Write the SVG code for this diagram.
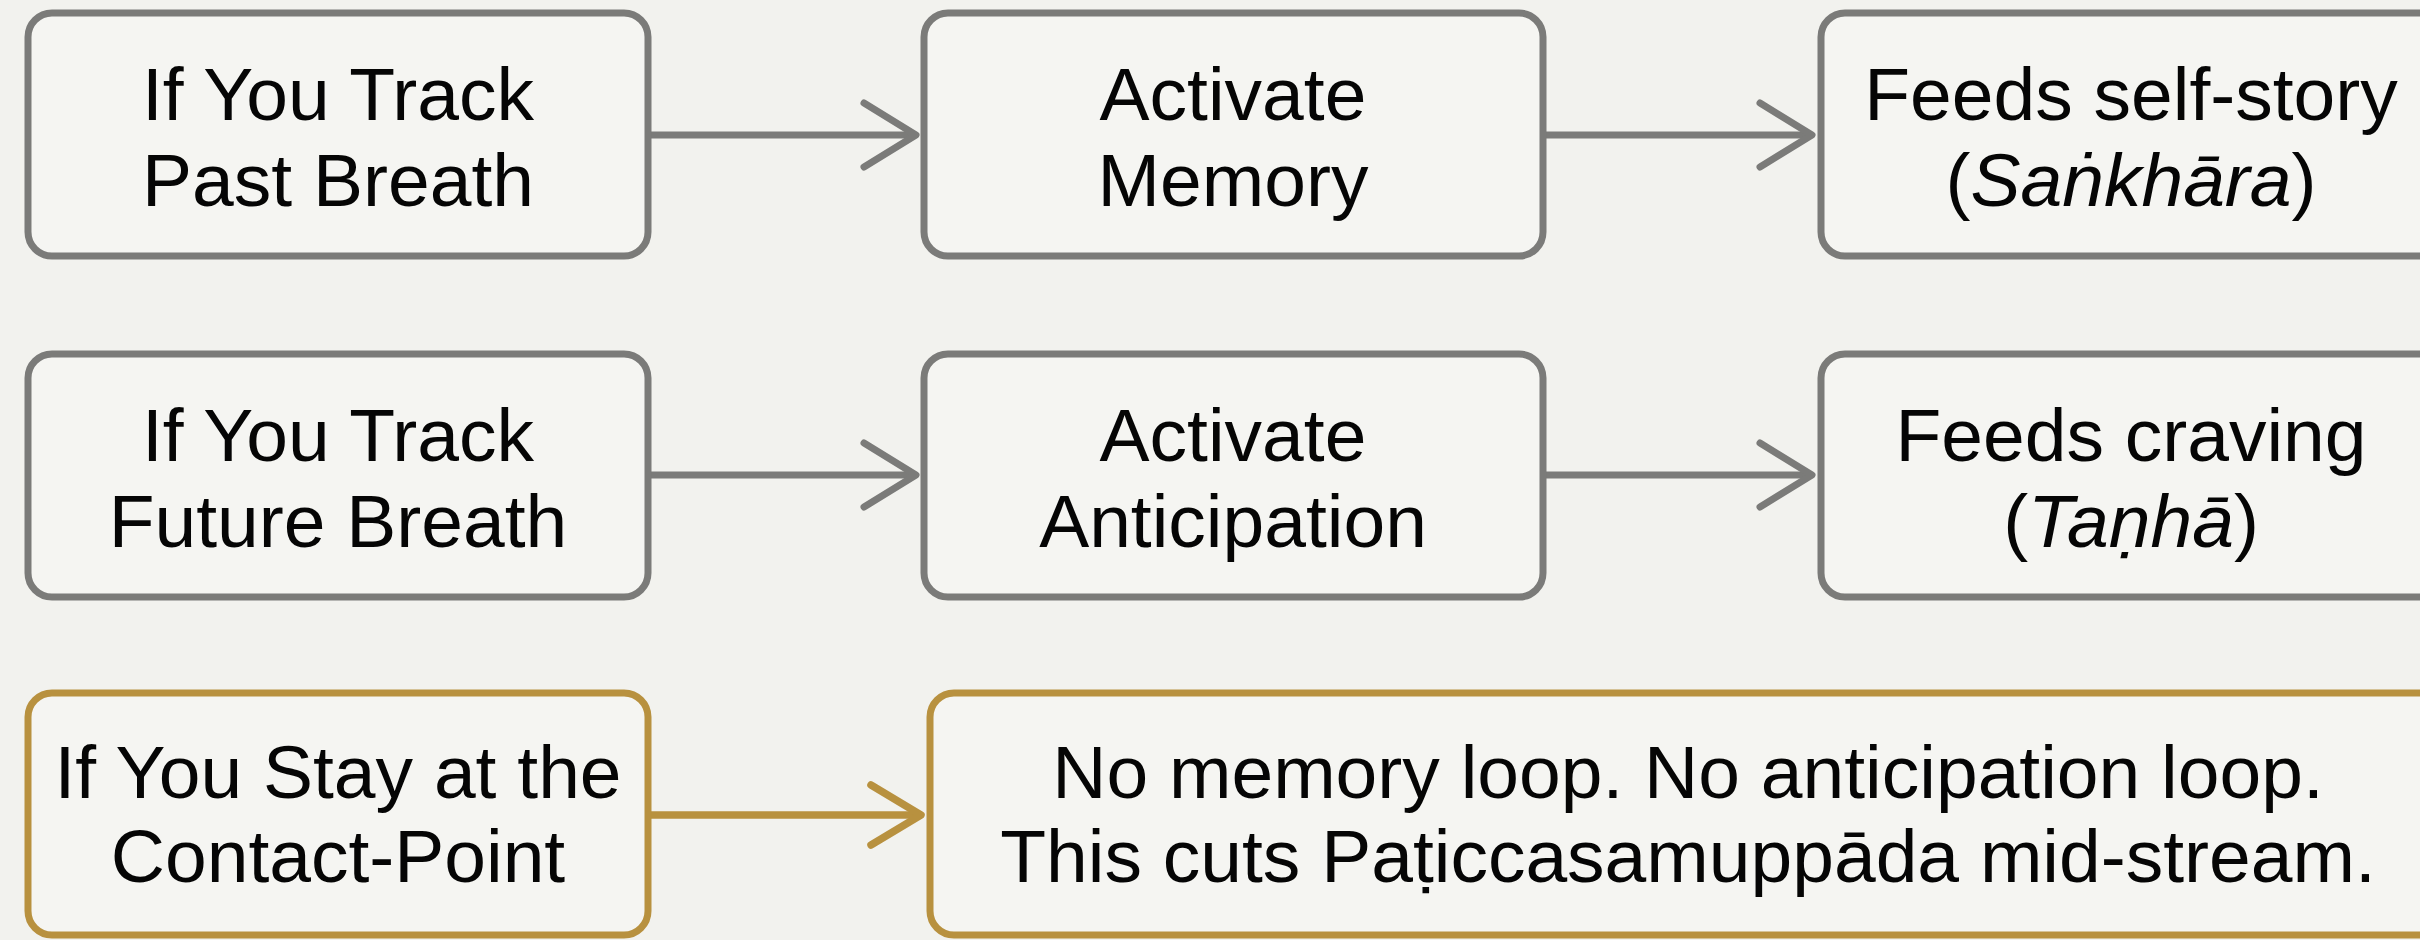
<svg xmlns="http://www.w3.org/2000/svg" width="2420" height="940" viewBox="0 0 2420 940">
<style>
.box{fill:#f5f5f2;stroke:#7b7b79;stroke-width:7}
.gbox{fill:#f5f5f2;stroke:#b8913f;stroke-width:7}
.t{font-family:"Liberation Sans",Arial,sans-serif;font-size:75px;fill:#050505;text-anchor:middle}
.i{font-style:italic}
.c{fill:none;stroke:#7b7b79;stroke-width:7}
.gc{fill:none;stroke:#b8913f;stroke-width:7.5}
</style>
<defs>
<marker id="ah" markerUnits="userSpaceOnUse" markerWidth="90" markerHeight="90" viewBox="-60 -45 90 90" refX="0" refY="0" orient="auto" overflow="visible">
<path d="M-52,-32 L0,0 L-52,32" fill="none" stroke="#7b7b79" stroke-width="7" stroke-linecap="round" stroke-linejoin="round"/>
</marker>
<marker id="ahg" markerUnits="userSpaceOnUse" markerWidth="90" markerHeight="90" viewBox="-60 -45 90 90" refX="0" refY="0" orient="auto" overflow="visible">
<path d="M-50,-30 L0,0 L-50,30" fill="none" stroke="#b8913f" stroke-width="7.5" stroke-linecap="round" stroke-linejoin="round"/>
</marker>
</defs>
<rect width="2420" height="940" fill="#f2f2ee"/>
<g id="connectors">
<line class="c" x1="648" y1="135" x2="916" y2="135" marker-end="url(#ah)"/>
<line class="c" x1="1543" y1="135" x2="1812" y2="135" marker-end="url(#ah)"/>
<line class="c" x1="648" y1="475" x2="916" y2="475" marker-end="url(#ah)"/>
<line class="c" x1="1543" y1="475" x2="1812" y2="475" marker-end="url(#ah)"/>
<line class="gc" x1="648" y1="815" x2="921" y2="815" marker-end="url(#ahg)"/>
</g>
<g id="past">
<rect class="box" x="28" y="13" width="620" height="243" rx="24"/>
<text class="t" x="338" y="120">If You Track</text>
<text class="t" x="338" y="206">Past Breath</text>
</g>
<g id="memory">
<rect class="box" x="924" y="13" width="619" height="243" rx="24"/>
<text class="t" x="1233" y="120">Activate</text>
<text class="t" x="1233" y="206">Memory</text>
</g>
<g id="selfstory">
<rect class="box" x="1821" y="13" width="621" height="243" rx="24"/>
<text class="t" x="2131" y="120">Feeds self-story</text>
<text class="t" x="2131" y="206">(<tspan class="i">Saṅkhāra</tspan>)</text>
</g>
<g id="future">
<rect class="box" x="28" y="354" width="620" height="243" rx="24"/>
<text class="t" x="338" y="461">If You Track</text>
<text class="t" x="338" y="547">Future Breath</text>
</g>
<g id="anticipation">
<rect class="box" x="924" y="354" width="619" height="243" rx="24"/>
<text class="t" x="1233" y="461">Activate</text>
<text class="t" x="1233" y="547">Anticipation</text>
</g>
<g id="craving">
<rect class="box" x="1821" y="354" width="621" height="243" rx="24"/>
<text class="t" x="2131" y="461">Feeds craving</text>
<text class="t" x="2131" y="547">(<tspan class="i">Taṇhā</tspan>)</text>
</g>
<g id="contact">
<rect class="gbox" x="28" y="693" width="620" height="242" rx="24"/>
<text class="t" x="338" y="798">If You Stay at the</text>
<text class="t" x="338" y="882">Contact-Point</text>
</g>
<g id="cut">
<rect class="gbox" x="930" y="693" width="1512" height="242" rx="24"/>
<text class="t" x="1688" y="798">No memory loop. No anticipation loop.</text>
<text class="t" x="1688" y="882">This cuts Paṭiccasamuppāda mid-stream.</text>
</g>
</svg>
